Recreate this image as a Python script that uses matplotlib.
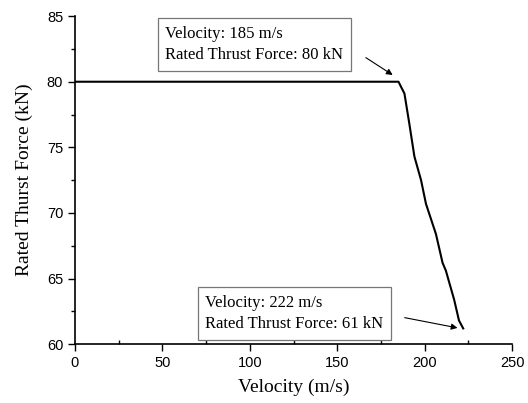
import matplotlib
matplotlib.use('Agg')
import matplotlib.pyplot as plt
from matplotlib.ticker import MultipleLocator

# Data
velocity = [0, 185, 188.4, 191.2, 194.1, 197.9, 200.7, 206.4, 210.2, 212.1, 216.8, 219.6, 222]
thrust = [80, 80, 79.1, 76.8, 74.3, 72.5, 70.7, 68.4, 66.2, 65.6, 63.4, 61.8, 61.2]

x_ticks = [0, 50, 100, 150, 200, 250]
y_ticks = [60, 65, 70, 75, 80, 85]

serif = 'Liberation Serif'
sans = 'Liberation Sans'

fig = plt.figure(figsize=(5.28, 4.03), dpi=100)
ax = fig.add_axes([0.142, 0.146, 0.828, 0.814])

ax.plot(velocity, thrust, color='black', linewidth=1.5)

ax.set_xlim(0, 250)
ax.set_ylim(60, 85)
ax.set_xticks(x_ticks)
ax.set_yticks(y_ticks)
ax.xaxis.set_minor_locator(MultipleLocator(25))
ax.yaxis.set_minor_locator(MultipleLocator(2.5))
ax.tick_params(which='major', direction='out', length=5, width=1, labelsize=10.5)
ax.tick_params(axis='x', which='minor', direction='in', length=3, width=1)
ax.tick_params(axis='y', which='minor', direction='out', length=3, width=1)
for lab in ax.get_xticklabels() + ax.get_yticklabels():
    lab.set_fontfamily(sans)

ax.spines['top'].set_visible(False)
ax.spines['right'].set_visible(False)
ax.spines['left'].set_linewidth(1.2)
ax.spines['bottom'].set_linewidth(1.2)

ax.set_xlabel('Velocity (m/s)', fontfamily=serif, fontsize=14, labelpad=6)
ax.set_ylabel('Rated Thurst Force (kN)', fontfamily=serif, fontsize=14, labelpad=10)

box = dict(boxstyle='square,pad=0.45', facecolor='white', edgecolor='#777777', linewidth=0.9)
arrow = dict(arrowstyle='-|>', color='black', linewidth=0.8, mutation_scale=9)

ax.text(51.5, 82.85, 'Velocity: 185 m/s\nRated Thrust Force: 80 kN',
        fontfamily=serif, fontsize=12, va='center', ha='left', bbox=box, linespacing=1.45)
ax.annotate('', xy=(183, 80.4), xytext=(165, 81.95), arrowprops=arrow)

ax.text(74.4, 62.35, 'Velocity: 222 m/s\nRated Thrust Force: 61 kN',
        fontfamily=serif, fontsize=12, va='center', ha='left', bbox=box, linespacing=1.45)
ax.annotate('', xy=(220.3, 61.2), xytext=(187, 62.06), arrowprops=arrow)

fig.savefig('out.png', dpi=100)
